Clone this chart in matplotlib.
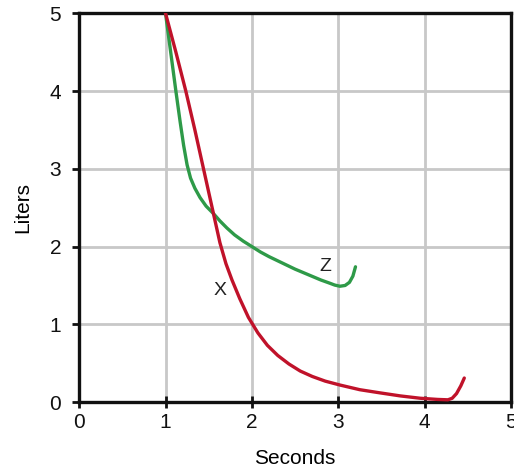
import matplotlib
matplotlib.use("Agg")
import matplotlib.pyplot as plt

# Curve X (red)
x_sec = [1.00, 1.12, 1.235, 1.34, 1.44, 1.54, 1.63, 1.70, 1.77, 1.86, 1.96, 2.07, 2.18, 2.30, 2.43, 2.56, 2.70, 2.85, 3.02, 3.25, 3.48, 3.72, 3.95, 4.15, 4.27, 4.32, 4.37, 4.42, 4.46]
x_lit = [5.00, 4.50, 4.00, 3.50, 3.00, 2.50, 2.05, 1.78, 1.57, 1.33, 1.09, 0.89, 0.73, 0.60, 0.49, 0.40, 0.33, 0.27, 0.22, 0.16, 0.12, 0.08, 0.05, 0.035, 0.03, 0.05, 0.11, 0.21, 0.31]

# Curve Z (green)
z_sec = [1.00, 1.06, 1.12, 1.17, 1.21, 1.25, 1.29, 1.34, 1.40, 1.47, 1.55, 1.63, 1.71, 1.80, 1.90, 2.00, 2.10, 2.20, 2.35, 2.50, 2.65, 2.80, 2.90, 2.96, 3.02, 3.08, 3.13, 3.17, 3.20]
z_lit = [5.00, 4.50, 4.00, 3.60, 3.30, 3.05, 2.88, 2.75, 2.63, 2.52, 2.43, 2.33, 2.24, 2.15, 2.07, 2.00, 1.93, 1.87, 1.79, 1.71, 1.64, 1.57, 1.53, 1.505, 1.49, 1.50, 1.54, 1.62, 1.74]

ticks = [0, 1, 2, 3, 4, 5]

plt.rcParams['font.family'] = ['Liberation Sans', 'DejaVu Sans']

fig = plt.figure(figsize=(5.14, 4.72), dpi=100)
ax = fig.add_axes([0.154, 0.148, 0.840, 0.824])

ax.set_xlim(0, 5)
ax.set_ylim(0, 5)
ax.set_xticks(ticks)
ax.set_yticks(ticks)
ax.grid(True, color='#c8c8c8', linewidth=2.0)
ax.set_axisbelow(True)

ax.plot(z_sec, z_lit, color='#2e9a48', linewidth=2.4, solid_capstyle='round', solid_joinstyle='round', zorder=3)
ax.plot(x_sec, x_lit, color='#c0122a', linewidth=2.4, solid_capstyle='round', solid_joinstyle='round', zorder=4)

ax.text(1.63, 1.44, 'X', fontsize=14, ha='center', va='center', color='#222222')
ax.text(2.85, 1.74, 'Z', fontsize=14, ha='center', va='center', color='#222222')

for s in ax.spines.values():
    s.set_color('#111111')
    s.set_linewidth(2.4)

ax.tick_params(axis='y', direction='out', length=5, width=2, labelsize=15, pad=8, colors='#111111')
ax.tick_params(axis='x', direction='inout', length=8, width=2, labelsize=15, pad=4, colors='#111111')

ax.set_xlabel('Seconds', fontsize=15, labelpad=12)
ax.set_ylabel('Liters', fontsize=15, labelpad=12)

fig.savefig('out.png', dpi=100)
